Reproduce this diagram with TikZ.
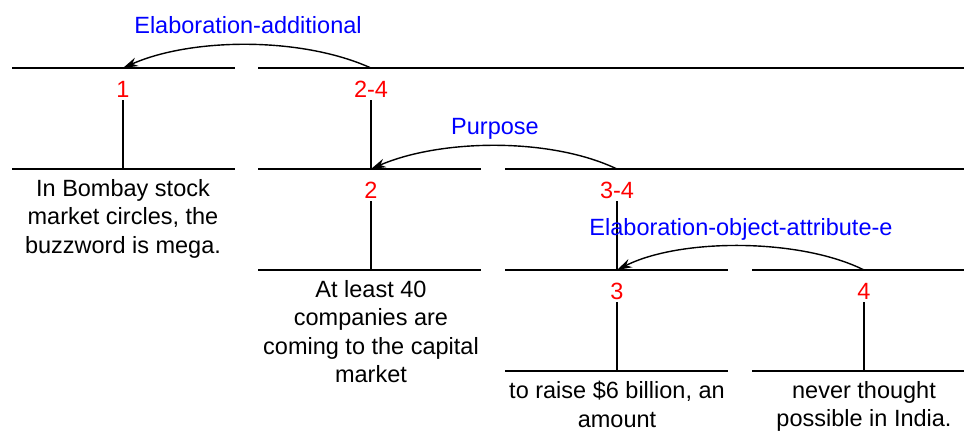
\documentclass[tikz,border=0pt]{standalone}
\usepackage{fontspec}
\setmainfont{Liberation Sans}
\usetikzlibrary{arrows.meta}

\begin{document}
\begin{tikzpicture}[x=1pt, y=-1pt,
	font=\fontsize{23.5}{28.5}\selectfont,
	bar/.style={line width=1.6pt},
	num/.style={text=red, inner sep=3pt, anchor=base},
	edu/.style={align=center, inner sep=0pt, anchor=north},
	rel/.style={text=blue, inner sep=0pt, anchor=base},
	relarrow/.style={line width=1.4pt, -{Stealth[length=15pt, width=9pt]}}]
	
	\useasboundingbox (0,0) rectangle (964,432);
	
	% horizontal bars
	\foreach \x/\y in {12/68, 12/169, 258/169, 258/270, 505/270, 505/371, 752/270, 752/371}
		\draw[bar] (\x,\y) -- ++(223,0);
	\draw[bar] (258,68) -- (964,68);
	\draw[bar] (505,169) -- (964,169);
	
	\coordinate (s1) at (123,68);
	\coordinate (s24) at (371,68);
	\coordinate (s2) at (371,169);
	\coordinate (s34) at (617,169);
	\coordinate (s3) at (617,270);
	\coordinate (s4) at (864,270);
	\coordinate (b1) at (123,169);
	\coordinate (b2) at (371,270);
	\coordinate (b3) at (617,371);
	\coordinate (b4) at (864,371);
	
	\node[num] (n1) at (123,97) {1};
	\node[num] (n24) at (371,97) {2-4};
	\node[num] (n2) at (371,198) {2};
	\node[num] (n34) at (617,198) {3-4};
	\node[num] (n3) at (617,299) {3};
	\node[num] (n4) at (864,299) {4};
	
	\draw[bar] (n1) -- (b1);
	\draw[bar] (n24) -- (s2);
	\draw[bar] (n2) -- (b2);
	\draw[bar] (n34) -- (s3);
	\draw[bar] (n3) -- (b3);
	\draw[bar] (n4) -- (b4);
	
	\node[edu] (e1) at (123,179) {In Bombay stock\\market circles, the\\buzzword is mega.};
	\node[edu] (e2) at (371,280) {At least 40\\companies are\\coming to the capital\\market};
	\node[edu] (e3) at (617,381) {to raise \$6 billion, an\\amount};
	\node[edu] (e4) at (864,381) {never thought\\possible in India.};
	
	\node[rel] (r1) at (248,33) {Elaboration-additional};
	\node[rel] (r2) at (495,134) {Purpose};
	\node[rel] (r3) at (741,235) {Elaboration-object-attribute-e};
	
	\draw[relarrow] (s24) .. controls (300,36) and (190,38) .. (s1);
	\draw[relarrow] (s34) .. controls (550,137) and (440,139) .. (s2);
	\draw[relarrow] (s4) .. controls (800,238) and (680,238) .. (s3);
	
\end{tikzpicture}
\end{document}
